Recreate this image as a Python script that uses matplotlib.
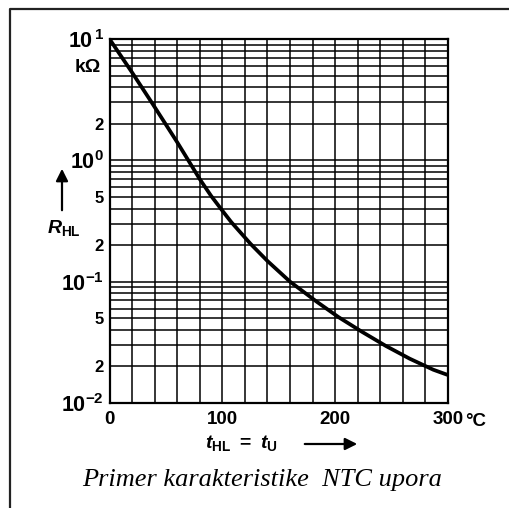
#!/usr/bin/env python3

import matplotlib
matplotlib.use('Agg')
import matplotlib.pyplot as plt
import numpy as np
from matplotlib.lines import Line2D

plt.rcParams['mathtext.fontset'] = 'custom'
plt.rcParams['mathtext.rm'] = 'Liberation Sans:bold'
plt.rcParams['mathtext.bf'] = 'Liberation Sans:bold'
plt.rcParams['mathtext.it'] = 'Liberation Sans:italic:bold'
SANS = ['Liberation Sans', 'DejaVu Sans']

# temperature (degC) and resistance (kOhm)
temp = [0, 20, 38, 50, 60, 69, 80, 90, 100, 108, 125, 140, 160, 184, 203, 224, 245, 266, 287, 300]
r_hl = [10, 5.3, 2.94, 1.97, 1.41, 1.03, 0.70, 0.51, 0.385, 0.309, 0.205, 0.148, 0.1, 0.068,
        0.051, 0.0385, 0.0295, 0.0232, 0.0188, 0.017]

x_ticks = [0, 100, 200, 300]
x_ticklabels = ['0', '100', '200', '300']
y_ticks = [10, 2, 1, 0.5, 0.2, 0.1, 0.05, 0.02, 0.01]
y_ticklabels = [r'$10^{\,1}$', '2', r'$10^{0}$', '5', '2', r'$10^{-1}$', '5', '2', r'$10^{-2}$']
caption = 'Primer karakteristike  NTC upora'

W, H = 509, 508
fig = plt.figure(figsize=(W/100, H/100), dpi=100)
ax = fig.add_axes([109.5/W, 1-403/H, 338.5/W, 364/H])

ax.set_yscale('log')
ax.set_xlim(0, 300)
ax.set_ylim(0.01, 10)

ax.set_xticks(x_ticks)
ax.set_xticklabels(x_ticklabels)
ax.set_xticks(np.arange(0, 301, 20), minor=True)
ax.set_yticks(y_ticks)
ax.set_yticklabels(y_ticklabels)
minor_y = [m*10.0**e for e in (-2, -1, 0) for m in range(2, 10)]
ax.set_yticks(minor_y, minor=True)
ax.yaxis.set_minor_formatter(matplotlib.ticker.NullFormatter())

ax.grid(True, which='both', color='black', lw=1.1)
ax.tick_params(which='both', length=0)
ax.tick_params(axis='x', pad=6)
ax.tick_params(axis='y', pad=4)
for lab in ax.get_xticklabels():
    lab.set_family(SANS)
    lab.set_fontweight('bold')
    lab.set_fontsize(13.5)
for lab, v in zip(ax.get_yticklabels(), y_ticks):
    lab.set_family(SANS)
    lab.set_fontweight('bold')
    lab.set_fontsize(15.5 if v in (10, 1, 0.1, 0.01) else 12)
for s in ax.spines.values():
    s.set_linewidth(1.6)

ax.plot(temp, r_hl, color='black', lw=2.7, solid_joinstyle='round', zorder=5)

# labels around the axes
fig.text(465/W, 1-426/H, '°C', fontsize=13.5, fontweight='bold', va='baseline', family=SANS)
fig.text(101/W, 1-67/H, 'kΩ', fontsize=14, fontweight='bold', ha='right', va='center',
         family=SANS)

fig.text(47/W, 1-228/H, r'$\mathit{R}_{\mathbf{HL}}$', fontsize=14, va='center')
ax.annotate('', xy=(62, H-166), xycoords='figure pixels', xytext=(62, H-213),
            textcoords='figure pixels',
            arrowprops=dict(arrowstyle='-|>', lw=1.6, color='black', mutation_scale=18))

fig.text(205/W, 1-443/H, r'$\mathit{t}_{\mathbf{HL}}\ \mathbf{=}\ \mathit{t}_{\mathbf{U}}$',
         fontsize=14, va='center')
ax.annotate('', xy=(360, H-444), xycoords='figure pixels', xytext=(302, H-444),
            textcoords='figure pixels',
            arrowprops=dict(arrowstyle='-|>', lw=1.6, color='black', mutation_scale=18))

fig.text(262/W, 1-480/H, caption, fontsize=19, style='italic', ha='center', va='center',
         family=['Liberation Serif', 'DejaVu Serif'])

# frame around the figure (only the top and left edges are inside the picture)
fig.add_artist(Line2D([10/W, 10/W, 1], [0, 1-9/H, 1-9/H], transform=fig.transFigure,
                      color='#222222', lw=1.6))

fig.savefig('out.png', dpi=100)
